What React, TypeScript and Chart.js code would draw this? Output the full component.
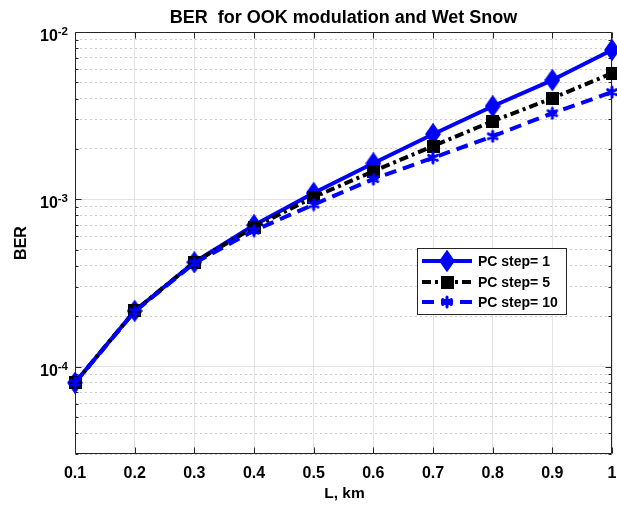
import React, { useEffect, useRef } from 'react';
import { Chart, registerables } from 'chart.js';

Chart.register(...registerables);

// ---- data ----
const distances = [0.1, 0.2, 0.3, 0.4, 0.5, 0.6, 0.7, 0.8, 0.9, 1.0];
const berStep1 = [8.0e-5, 2.15e-4, 4.2e-4, 7.0e-4, 1.09e-3, 1.64e-3, 2.45e-3, 3.6e-3, 5.16e-3, 7.8e-3];
const berStep5 = [8.0e-5, 2.15e-4, 4.2e-4, 6.8e-4, 1.03e-3, 1.47e-3, 2.08e-3, 2.93e-3, 4.02e-3, 5.67e-3];
const berStep10 = [8.0e-5, 2.13e-4, 4.15e-4, 6.5e-4, 9.3e-4, 1.32e-3, 1.77e-3, 2.38e-3, 3.27e-3, 4.37e-3];
const seriesLabels = ['PC step= 1', 'PC step= 5', 'PC step= 10'];

const xTickValues = [0.1, 0.2, 0.3, 0.4, 0.5, 0.6, 0.7, 0.8, 0.9, 1.0];
const xTickLabels = ['0.1', '0.2', '0.3', '0.4', '0.5', '0.6', '0.7', '0.8', '0.9', '1'];
const yMajorTicks = [1e-4, 1e-3, 1e-2];
const yMajorExponents = ['-4', '-3', '-2'];
const yMinorMultipliers = [1, 2, 3, 4, 5, 6, 7, 8, 9];
const yDecades = [-5, -4, -3, -2];
const xMin = 0.1;
const xMax = 1.0;
const yMin = 3e-5;
const yMax = 1e-2;

const titleText = 'BER  for OOK modulation and Wet Snow';
const xTitleText = 'L, km';
const yTitleText = 'BER';

const FONT = '"Liberation Sans", Arial, Helvetica, sans-serif';

function buildYTicks(): number[] {
  const out: number[] = [];
  for (const e of yDecades) {
    for (const m of yMinorMultipliers) {
      const v = Number((m * Math.pow(10, e)).toPrecision(3));
      if (v >= yMin * 0.999 && v <= yMax * 1.001) out.push(v);
    }
  }
  return out;
}
const yTickValues = buildYTicks();

function isMajor(v: number) {
  const l = Math.log10(v);
  return Math.abs(l - Math.round(l)) < 1e-6;
}

function makeDiamond(): HTMLCanvasElement {
  const c = document.createElement('canvas');
  c.width = 16; c.height = 22;
  const g = c.getContext('2d')!;
  g.fillStyle = '#0000ff';
  g.strokeStyle = '#0000ff';
  g.lineWidth = 1.5;
  g.beginPath();
  g.moveTo(8, 1); g.lineTo(15, 11); g.lineTo(8, 21); g.lineTo(1, 11); g.closePath();
  g.fill(); g.stroke();
  return c;
}
function makeSquare(): HTMLCanvasElement {
  const c = document.createElement('canvas');
  c.width = 13; c.height = 13;
  const g = c.getContext('2d')!;
  g.fillStyle = '#000000';
  g.fillRect(0, 0, 13, 13);
  return c;
}
function makeStar(): HTMLCanvasElement {
  const c = document.createElement('canvas');
  c.width = 14; c.height = 14;
  const g = c.getContext('2d')!;
  g.strokeStyle = '#0000ff';
  g.lineWidth = 3;
  g.lineCap = 'round';
  const cx = 7, cy = 7, r = 5;
  g.beginPath();
  g.moveTo(cx, cy - r); g.lineTo(cx, cy + r);
  g.moveTo(cx - r * 0.87, cy - r * 0.5); g.lineTo(cx + r * 0.87, cy + r * 0.5);
  g.moveTo(cx - r * 0.87, cy + r * 0.5); g.lineTo(cx + r * 0.87, cy - r * 0.5);
  g.stroke();
  return c;
}

export default function App() {
  const ref = useRef<HTMLCanvasElement | null>(null);

  useEffect(() => {
    if (!ref.current) return;
    const diamond = makeDiamond();
    const square = makeSquare();
    const star = makeStar();

    const styles = [
      { color: '#0000ff', dash: [] as number[], marker: diamond },
      { color: '#000000', dash: [9, 4, 3, 4], marker: square },
      { color: '#0000ff', dash: [12, 7], marker: star },
    ];

    const matlabPlugin = {
      id: 'matlabAxes',
      beforeDatasetsDraw(chart: any) {
        const { ctx, chartArea: a, scales } = chart;
        const xs = scales.x, ys = scales.y;
        const L = Math.round(a.left) + 0.5, R = Math.round(a.right) - 0.5;
        const T = Math.round(a.top) + 0.5, B = Math.round(a.bottom) - 0.5;
        ctx.save();
        ctx.strokeStyle = '#262626';
        ctx.lineWidth = 1;
        ctx.beginPath();
        ctx.rect(L, T, R - L, B - T);
        for (const v of xTickValues) {
          const px = Math.round(xs.getPixelForValue(v)) + 0.5;
          ctx.moveTo(px, B); ctx.lineTo(px, B - 6);
          ctx.moveTo(px, T); ctx.lineTo(px, T + 6);
        }
        for (const v of yTickValues) {
          const py = Math.round(ys.getPixelForValue(v)) + 0.5;
          const len = isMajor(v) ? 6 : 3;
          ctx.moveTo(L, py); ctx.lineTo(L + len, py);
          ctx.moveTo(R, py); ctx.lineTo(R - len, py);
        }
        ctx.stroke();
        ctx.restore();
      },
      afterDraw(chart: any) {
        const { ctx, chartArea: a, scales } = chart;
        const xs = scales.x, ys = scales.y;
        ctx.save();
        ctx.fillStyle = '#000000';
        // title
        ctx.font = `bold 18px ${FONT}`;
        ctx.textAlign = 'center';
        ctx.textBaseline = 'alphabetic';
        ctx.fillText(titleText, (a.left + a.right) / 2, 23);
        // x tick labels
        ctx.font = `bold 16px ${FONT}`;
        xTickValues.forEach((v, i) => {
          ctx.fillText(xTickLabels[i], xs.getPixelForValue(v), a.bottom + 24);
        });
        // x title
        ctx.font = `bold 15.5px ${FONT}`;
        ctx.fillText(xTitleText, (a.left + a.right) / 2 + 1, a.bottom + 44);
        // y tick labels with superscripts
        yMajorTicks.forEach((v, i) => {
          const py = ys.getPixelForValue(v);
          const right = a.left - 7;
          ctx.textAlign = 'right';
          ctx.font = `bold 11.5px ${FONT}`;
          const sup = yMajorExponents[i];
          const w = ctx.measureText(sup).width;
          ctx.fillText(sup, right, py + 3);
          ctx.font = `bold 16px ${FONT}`;
          ctx.fillText('10', right - w, py + 9);
        });
        // y title
        ctx.save();
        ctx.translate(21.5, (a.top + a.bottom) / 2);
        ctx.rotate(-Math.PI / 2);
        ctx.textAlign = 'center';
        ctx.textBaseline = 'middle';
        ctx.font = `bold 16px ${FONT}`;
        ctx.fillText(yTitleText, 0, 0);
        ctx.restore();

        // legend
        const lx = 417.5, ly = 248.5, lw = 149, lh = 66;
        ctx.fillStyle = '#ffffff';
        ctx.fillRect(lx, ly, lw, lh);
        ctx.strokeStyle = '#262626';
        ctx.lineWidth = 1;
        ctx.strokeRect(lx, ly, lw, lh);
        const rows = [261, 282, 302];
        seriesLabels.forEach((lab, i) => {
          const st = styles[i];
          const y = rows[i];
          ctx.save();
          ctx.strokeStyle = st.color;
          ctx.lineWidth = 4;
          ctx.lineCap = 'butt';
          ctx.setLineDash(st.dash);
          ctx.beginPath();
          ctx.moveTo(422, y); ctx.lineTo(472, y);
          ctx.stroke();
          ctx.restore();
          const m = st.marker;
          ctx.drawImage(m, 447 - m.width / 2, y - m.height / 2);
          ctx.fillStyle = '#000000';
          ctx.font = `bold 14px ${FONT}`;
          ctx.textAlign = 'left';
          ctx.textBaseline = 'middle';
          ctx.fillText(lab, 478, y + 1);
        });
        ctx.restore();
      },
    };

    const series = [berStep1, berStep5, berStep10];
    const chart = new Chart(ref.current, {
      type: 'line',
      data: {
        labels: distances,
        datasets: series.map((vals, i) => ({
          label: seriesLabels[i],
          data: distances.map((x, j) => ({ x, y: vals[j] })),
          borderColor: styles[i].color,
          backgroundColor: styles[i].color,
          borderWidth: 4,
          borderDash: styles[i].dash,
          borderCapStyle: 'butt',
          borderJoinStyle: 'round',
          tension: 0,
          fill: false,
          pointStyle: styles[i].marker,
          pointRadius: 6,
          clip: false,
          order: 2 - i,
        })),
      } as any,
      options: {
        animation: false,
        responsive: false,
        events: [],
        layout: { padding: { left: 0, top: 32, right: 5, bottom: 0 }, autoPadding: false },
        plugins: { legend: { display: false }, title: { display: false }, tooltip: { enabled: false } },
        scales: {
          x: {
            type: 'linear',
            min: xMin,
            max: xMax,
            afterBuildTicks: (s: any) => { s.ticks = xTickValues.map((v) => ({ value: v })); },
            afterFit: (s: any) => { s.height = 56; },
            ticks: { display: false },
            grid: { color: '#e3e3e3', lineWidth: 1, drawTicks: false },
            border: { display: false },
          },
          y: {
            type: 'logarithmic',
            min: yMin,
            max: yMax,
            afterBuildTicks: (s: any) => { s.ticks = yTickValues.map((v) => ({ value: v, major: isMajor(v) })); },
            afterFit: (s: any) => { s.width = 75; },
            ticks: { display: false },
            grid: {
              drawTicks: false,
              lineWidth: 1,
              color: (c: any) => (c.tick && isMajor(c.tick.value) ? '#e3e3e3' : '#cccccc'),
            },
            border: {
              display: false,
              dash: (c: any) => (c.tick && isMajor(c.tick.value) ? [] : [2, 3]),
            },
          },
        },
      } as any,
      plugins: [matlabPlugin],
    });
    return () => chart.destroy();
  }, []);

  return (
    <div style={{ position: 'absolute', left: 0, top: 0, width: 617, height: 510, background: '#ffffff' }}>
      <canvas ref={ref} width={617} height={510} style={{ display: 'block' }} />
    </div>
  );
}
